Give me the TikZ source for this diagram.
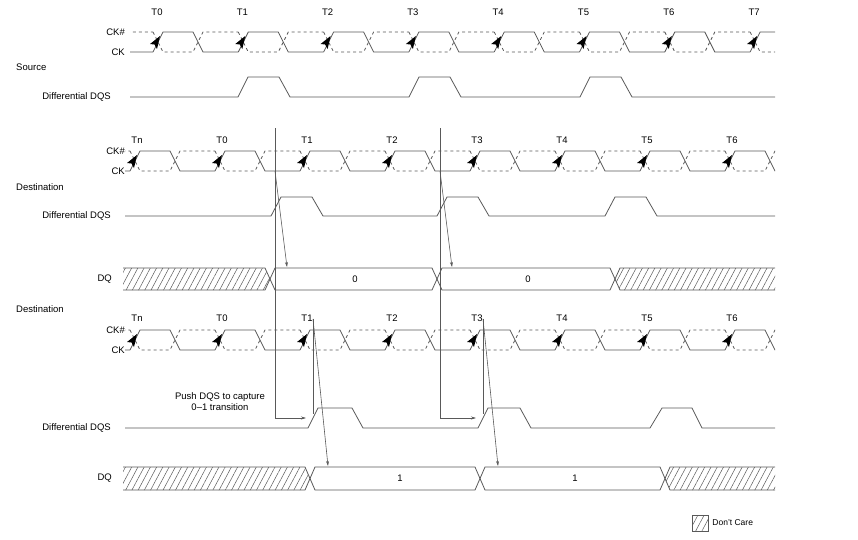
\documentclass[tikz,border=0pt]{standalone}
\usepackage{fontspec}
\setmainfont{Liberation Sans}
\usetikzlibrary{arrows.meta,patterns.meta}
\tikzset{
  sig/.style    = {draw=gray!70!black, line width=0.8pt},
  cksharp/.style= {sig, dashed, dash pattern=on 3pt off 3pt},
  clkarr/.style = {fill=black},
  guide/.style  = {draw=gray!70!black, line width=0.6pt},
  ptr/.style    = {guide, -{Stealth[length=5pt,width=3pt]}},
  hatch/.style  = {pattern={Lines[angle=62,distance=5.5pt,line width=0.5pt]}, pattern color=gray!70!black},
  lbl/.style    = {font=\fontsize{9.5}{11}\selectfont, inner sep=1pt},
  tick/.style   = {lbl},
  cell/.style   = {sig}
}
% clock pair: #1 top y, #2 x start, #3 x end, #4 period, #5 list of rising edges
\newcommand\ckpair[5]{%
  \begin{scope}
    \clip (#2,#1-8) rectangle (#3,#1+25);
    \foreach \r in {#5}{
      \draw[sig] (\r,#1+20) -- (\r+10,#1) -- (\r+40,#1) -- (\r+50,#1+20) -- (\r+#4,#1+20);
      \draw[cksharp] (\r,#1) -- (\r+10,#1+20) -- (\r+40,#1+20) -- (\r+50,#1) -- (\r+#4,#1);
      \fill[clkarr] (\r+7,#1+4) -- (\r-3,#1+12) -- (\r+1.5,#1+12.5) -- (\r+4,#1+17) -- cycle;
    }
  \end{scope}}
\begin{document}
\begin{tikzpicture}[x=1pt,y=-1pt]
\useasboundingbox (0,0) rectangle (858,539);

% ---- source ----
\node[lbl, anchor=west] (src) at (15,67) {Source};
\node[lbl, anchor=east] (sckn) at (126,32) {CK\#};
\node[lbl, anchor=east] (sck) at (126,52) {CK};
\ckpair{32}{130}{775}{85.3}{67.7,153,238.3,323.6,408.9,494.2,579.5,664.8,750.1}
\foreach \r/\t [count=\i] in {153/T0,238.3/T1,323.6/T2,408.9/T3,494.2/T4,579.5/T5,664.8/T6,750.1/T7}
  \node[tick] (st\i) at (\r+4,12) {\t};
\node[lbl, anchor=east] (sdqs) at (112,97) {Differential DQS};
\draw[sig] (130,97) -- (238,97) -- (248,77) -- (279,77) -- (290,97)
  -- (409,97) -- (419,77) -- (450,77) -- (461,97)
  -- (580,97) -- (590,77) -- (621,77) -- (632,97) -- (775,97);

% ---- destination 1 ----
\node[lbl, anchor=west] (dst1) at (15,187) {Destination};
\node[lbl, anchor=east] (dckn1) at (126,151) {CK\#};
\node[lbl, anchor=east] (dck1) at (126,171) {CK};
\ckpair{151}{125}{775}{85}{45,130,215,300,385,470,555,640,725}
\foreach \r/\t [count=\i] in {130/Tn,215/T0,300/T1,385/T2,470/T3,555/T4,640/T5,725/T6}
  \node[tick] (at\i) at (\r+7,140) {\t};
\node[lbl, anchor=east] (ddqs1) at (112,216) {Differential DQS};
\draw[sig] (125,216) -- (271,216) -- (281,197) -- (312,197) -- (323,216)
  -- (437,216) -- (447,197) -- (478,197) -- (489,216)
  -- (605,216) -- (615,197) -- (646,197) -- (657,216) -- (775,216);
\node[lbl, anchor=east] (dq1) at (113,279) {DQ};
\fill[hatch] (123,268) -- (265,268) -- (270,279) -- (265,290) -- (123,290) -- cycle;
\draw[sig] (123,268) -- (265,268) -- (275,290) -- (432,290) -- (442,268) -- (610,268) -- (620,290) -- (775,290);
\draw[sig] (123,290) -- (265,290) -- (275,268) -- (432,268) -- (442,290) -- (610,290) -- (620,268) -- (775,268);
\fill[hatch] (620,268) -- (775,268) -- (775,290) -- (620,290) -- (615,279) -- cycle;
\node[lbl] (v1a) at (355,279) {0};
\node[lbl] (v1b) at (528,279) {0};

% ---- destination 2 ----
\node[lbl, anchor=west] (dst2) at (15,309) {Destination};
\node[lbl, anchor=east] (dckn2) at (126,330) {CK\#};
\node[lbl, anchor=east] (dck2) at (126,350) {CK};
\ckpair{330}{125}{775}{85}{45,130,215,300,385,470,555,640,725}
\foreach \r/\t [count=\i] in {130/Tn,215/T0,300/T1,385/T2,470/T3,555/T4,640/T5,725/T6}
  \node[tick] (bt\i) at (\r+7,318) {\t};
\node[lbl, anchor=east] (ddqs2) at (112,428) {Differential DQS};
\draw[sig] (125,428) -- (308,428) -- (318,408) -- (352,408) -- (363,428)
  -- (478,428) -- (488,408) -- (520,408) -- (531,428)
  -- (650,428) -- (662,408) -- (692,408) -- (702,428) -- (775,428);
\node[lbl, anchor=east] (dq2) at (113,478) {DQ};
\fill[hatch] (123,467) -- (305,467) -- (310,478.5) -- (305,490) -- (123,490) -- cycle;
\draw[sig] (123,467) -- (305,467) -- (315,490) -- (475,490) -- (485,467) -- (660,467) -- (670,490) -- (775,490);
\draw[sig] (123,490) -- (305,490) -- (315,467) -- (475,467) -- (485,490) -- (660,490) -- (670,467) -- (775,467);
\fill[hatch] (670,467) -- (775,467) -- (775,490) -- (670,490) -- (665,478.5) -- cycle;
\node[lbl] (v2a) at (400,478.5) {1};
\node[lbl] (v2b) at (575,478.5) {1};

% ---- timing references ----
\coordinate (ga) at (275,128);
\coordinate (gb) at (440,128);
\coordinate (ga1) at (275,171);
\coordinate (gb1) at (440,171);
\coordinate (ga2) at (275,418);
\coordinate (gb2) at (440,418);
\coordinate (pa) at (306,418);
\coordinate (pb) at (476,418);
\coordinate (qa) at (287,267);
\coordinate (qb) at (452,267);
\coordinate (ka) at (313,319);
\coordinate (kb) at (483,319);
\coordinate (ka1) at (313,414);
\coordinate (kb1) at (483,414);
\coordinate (ra) at (328,466);
\coordinate (rb) at (498,466);
\draw[guide] (ga) -- (ga2);
\draw[guide] (gb) -- (gb2);
\draw[ptr] (ga2) -- (pa);
\draw[ptr] (gb2) -- (pb);
\draw[ptr] (ga1) -- (qa);
\draw[ptr] (gb1) -- (qb);
\draw[guide] (ka) -- (ka1);
\draw[guide] (kb) -- (kb1);
\draw[ptr] (ka) -- (ra);
\draw[ptr] (kb) -- (rb);
\node[lbl, align=center] (push) at (220,402) {Push DQS to capture\\0--1 transition};

% ---- legend ----
\node[draw=gray!70!black, hatch, minimum width=16pt, minimum height=16pt, inner sep=0pt] (dc) at (700,523) {};
\node[lbl, anchor=west, font=\fontsize{8.5}{10}\selectfont] (dct) at ([xshift=3pt]dc.east) {Don't Care};
\end{tikzpicture}
\end{document}
